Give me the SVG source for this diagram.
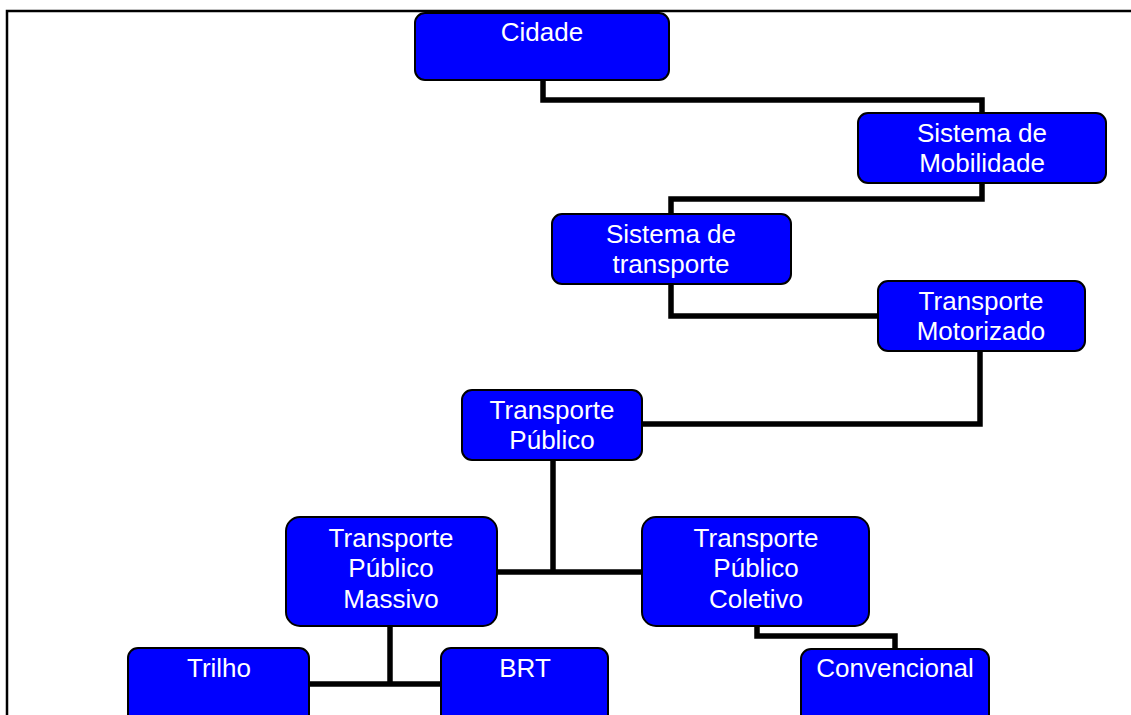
<svg xmlns="http://www.w3.org/2000/svg" width="1131" height="715" viewBox="0 0 1131 715">
<style>
.box{fill:#0000FF;stroke:#000;stroke-width:2}
.lbl{font-family:"Liberation Sans",Arial,sans-serif;font-size:26px;fill:#fff;text-anchor:middle}
.conn{fill:none;stroke:#000;stroke-width:5.5;stroke-linejoin:miter;stroke-linecap:butt}
</style>
<rect x="0" y="0" width="1131" height="715" fill="#fff"/>
<path d="M7,715 V11 H1131" fill="none" stroke="#000" stroke-width="2.5"/>
<g id="connectors">
<path class="conn" d="M543,80 V100 H982 V113"/>
<path class="conn" d="M982,183 V199 H671 V214"/>
<path class="conn" d="M671,284 V316 H878"/>
<path class="conn" d="M980,351 V424 H642"/>
<path class="conn" d="M553,460 V572"/>
<path class="conn" d="M497,572 H642"/>
<path class="conn" d="M390,626 V684"/>
<path class="conn" d="M309,684 H441"/>
<path class="conn" d="M757,626 V636 H895 V649"/>
</g>
<g id="cidade"><rect class="box" x="415" y="13" width="254" height="67" rx="10"/><text class="lbl" x="542" y="41">Cidade</text></g>
<g id="sistema-mobilidade"><rect class="box" x="858" y="113" width="248" height="70" rx="10"/><text class="lbl" x="982" y="142">Sistema de</text><text class="lbl" x="982" y="172">Mobilidade</text></g>
<g id="sistema-transporte"><rect class="box" x="552" y="214" width="239" height="70" rx="10"/><text class="lbl" x="671" y="243">Sistema de</text><text class="lbl" x="671" y="273">transporte</text></g>
<g id="transporte-motorizado"><rect class="box" x="878" y="281" width="207" height="70" rx="10"/><text class="lbl" x="981" y="310">Transporte</text><text class="lbl" x="981" y="340">Motorizado</text></g>
<g id="transporte-publico"><rect class="box" x="462" y="390" width="180" height="70" rx="10"/><text class="lbl" x="552" y="419">Transporte</text><text class="lbl" x="552" y="449">Público</text></g>
<g id="tp-massivo"><rect class="box" x="286" y="517" width="211" height="109" rx="14"/><text class="lbl" x="391" y="547">Transporte</text><text class="lbl" x="391" y="577">Público</text><text class="lbl" x="391" y="608">Massivo</text></g>
<g id="tp-coletivo"><rect class="box" x="642" y="517" width="227" height="109" rx="14"/><text class="lbl" x="756" y="547">Transporte</text><text class="lbl" x="756" y="577">Público</text><text class="lbl" x="756" y="608">Coletivo</text></g>
<g id="trilho"><rect class="box" x="128" y="648" width="181" height="80" rx="10"/><text class="lbl" x="219" y="677">Trilho</text></g>
<g id="brt"><rect class="box" x="441" y="648" width="167" height="80" rx="10"/><text class="lbl" x="525" y="677">BRT</text></g>
<g id="convencional"><rect class="box" x="801" y="649" width="188" height="80" rx="10"/><text class="lbl" x="895" y="677">Convencional</text></g>
</svg>
